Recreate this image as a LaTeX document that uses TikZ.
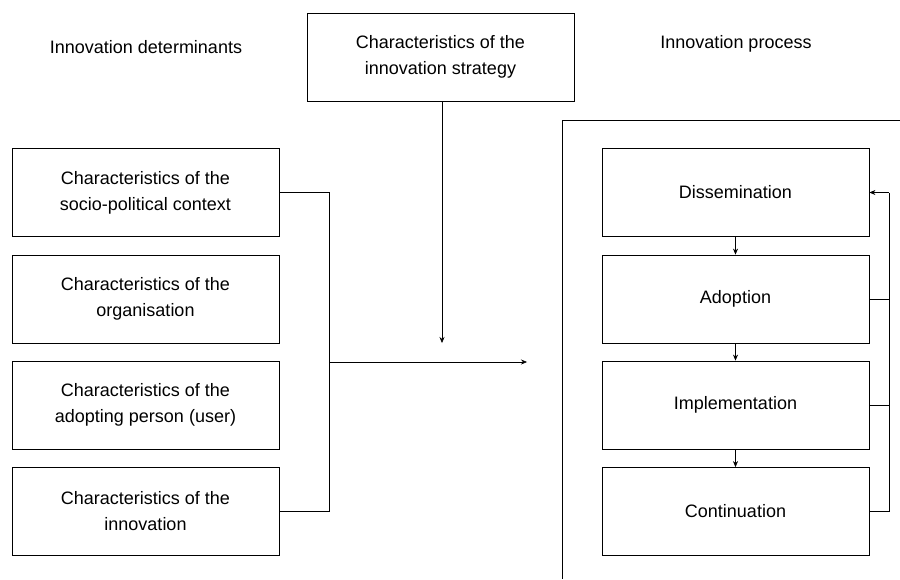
\documentclass[tikz,border=0pt]{standalone}
\usepackage{fontspec}
\setmainfont{Liberation Sans}
\usetikzlibrary{arrows.meta}
\begin{document}
\begin{tikzpicture}[x=1pt,y=-1pt,
    box/.style={draw,thick,minimum width=267pt,minimum height=88pt,
      align=center,font=\fontsize{18}{26}\selectfont},
    heading/.style={font=\fontsize{18}{26}\selectfont},
    link/.style={draw,semithick,-{Stealth[length=6pt,width=5pt]}}]
  \useasboundingbox (0,0) rectangle (900,579);
  % headings and strategy box
  \node[heading] (det) at (146,47) {Innovation determinants};
  \node[heading] (proc) at (736,44) {Innovation process};
  \node[box] (strat) at (440.5,57) {Characteristics of the\\innovation strategy};
  % determinants
  \node[box] (ctx) at (145.5,192.5) {Characteristics of the\\socio-political context};
  \node[box] (org) at (145.5,299) {Characteristics of the\\organisation};
  \node[box] (user) at (145.5,405) {Characteristics of the\\adopting person (user)};
  \node[box] (inno) at (145.5,511.5) {Characteristics of the\\innovation};
  % process
  \node[box] (diss) at (735.5,192.5) {Dissemination};
  \node[box] (adop) at (735.5,299) {Adoption};
  \node[box] (impl) at (735.5,405) {Implementation};
  \node[box] (cont) at (735.5,511.5) {Continuation};
  \draw[thick] (900,120) -- (562,120) -- (562,579);
  \coordinate (join) at (329,362);
  \coordinate (into) at (527,362);
  \coordinate (meet) at (442,343);
  \coordinate (back) at (889,192.5);
  \begin{scope}[semithick]
    \draw (ctx.east) -| (join);
    \draw (inno.east) -| (join);
    \draw[link] (join) -- (into);
    \draw[link] (strat.south -| meet) -- (meet);
    \draw[link] (diss) -- (adop);
    \draw[link] (adop) -- (impl);
    \draw[link] (impl) -- (cont);
    \draw (adop.east) -| (back);
    \draw (impl.east) -| (back);
    \draw (cont.east) -| (back);
    \draw[link] (back) -- (diss.east);
  \end{scope}
\end{tikzpicture}
\end{document}
